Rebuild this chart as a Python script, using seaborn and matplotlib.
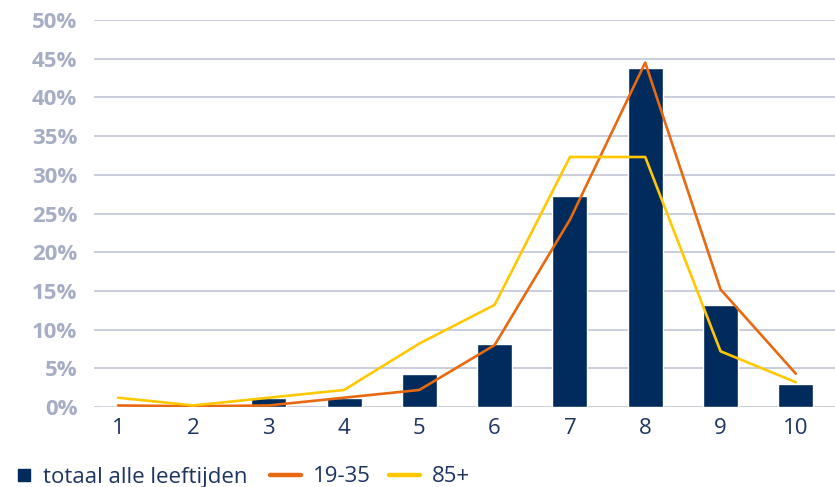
import matplotlib
matplotlib.use("Agg")
import matplotlib.pyplot as plt
from matplotlib.lines import Line2D
from matplotlib.ticker import FuncFormatter
import numpy as np
import pandas as pd
import seaborn as sns

# Rapportcijfers 1 t/m 10 en het aandeel per groep (%)
cijfers = ["1", "2", "3", "4", "5", "6", "7", "8", "9", "10"]
totaal_alle_leeftijden = [0.0, 0.0, 1.2, 1.2, 4.2, 8.1, 27.3, 43.8, 13.2, 3.0]
leeftijd_19_35 = [0.2, 0.1, 0.2, 1.2, 2.2, 8.0, 24.2, 44.5, 15.2, 4.3]
leeftijd_85_plus = [1.2, 0.2, 1.2, 2.2, 8.2, 13.2, 32.3, 32.3, 7.2, 3.2]
y_ticks = [0, 5, 10, 15, 20, 25, 30, 35, 40, 45, 50]

NAVY = "#002b5c"
ORANGE = "#e8690f"
YELLOW = "#ffc800"
GRID = "#c6c9db"
YLAB = "#a6aec6"
XLAB = "#1d3461"
FS = 16

sns.set_theme(style="white")
plt.rcParams["font.family"] = ["Open Sans", "DejaVu Sans"]

df = pd.DataFrame({
    "cijfer": cijfers,
    "pos": np.arange(len(cijfers)),
    "totaal": totaal_alle_leeftijden,
    "19-35": leeftijd_19_35,
    "85+": leeftijd_85_plus,
})

fig = plt.figure(figsize=(8.35, 4.87), dpi=100)
ax = fig.add_axes([94 / 835, 1 - 407 / 487, 1 - 94 / 835, (407 - 20) / 487])

sns.barplot(data=df, x="cijfer", y="totaal", color=NAVY, width=0.465,
            saturation=1, ax=ax, zorder=2)
sns.lineplot(data=df, x="pos", y="19-35", color=ORANGE, linewidth=1.9,
             ax=ax, zorder=3)
sns.lineplot(data=df, x="pos", y="85+", color=YELLOW, linewidth=1.9,
             ax=ax, zorder=3)

ax.set_xlim(-0.32, 9.52)
ax.set_ylim(0, 50)
ax.set_yticks(y_ticks)
ax.yaxis.set_major_formatter(FuncFormatter(lambda v, _: f"{v:.0f}%"))
ax.set_xticks(df["pos"])
ax.set_xticklabels(cijfers)
ax.set_xlabel("")
ax.set_ylabel("")

ax.grid(axis="y", color=GRID, linewidth=1.3, zorder=0)
ax.set_axisbelow(True)
for s in ax.spines.values():
    s.set_visible(False)

ax.tick_params(axis="y", length=0, pad=12, labelsize=FS, labelcolor=YLAB)
ax.tick_params(axis="x", length=0, pad=8, labelsize=FS, labelcolor=XLAB)
for lbl in ax.get_yticklabels():
    lbl.set_fontweight("bold")

# Legenda onder de grafiek
y_leg = 1 - 477 / 487
h_bar = [Line2D([], [], marker="s", linestyle="none", color=NAVY, markersize=8.6)]
fig.legend(h_bar, ["totaal alle leeftijden"], loc="center left",
           bbox_to_anchor=(15 / 835, y_leg), frameon=False, fontsize=FS,
           handlelength=0.81, handletextpad=0.45, borderpad=0,
           borderaxespad=0, labelcolor=XLAB)
h_lines = [Line2D([], [], color=ORANGE, linewidth=3.2),
           Line2D([], [], color=YELLOW, linewidth=3.2)]
fig.legend(h_lines, ["19-35", "85+"], loc="center left",
           bbox_to_anchor=(270 / 835, y_leg), frameon=False, fontsize=FS,
           ncol=2, handlelength=1.40, handletextpad=0.54,
           columnspacing=0.81, borderpad=0, borderaxespad=0,
           labelcolor=XLAB)

fig.savefig("out.png", dpi=100)
